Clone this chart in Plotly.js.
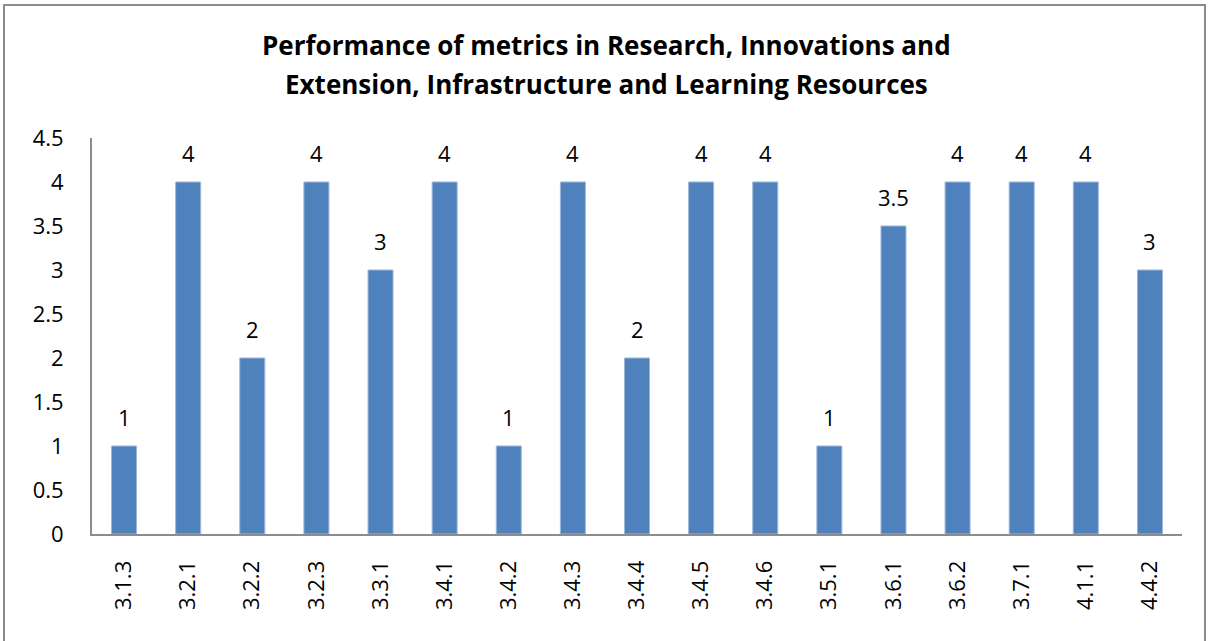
<!DOCTYPE html>
<html>
<head>
<meta charset="utf-8">
<script src="https://cdn.plot.ly/plotly-3.0.1.min.js"></script>
<style>
html,body{margin:0;padding:0;background:#fff;}
#frame{position:absolute;left:3px;top:4px;width:1203px;height:650px;border:2px solid #8c8c8c;box-sizing:border-box;}
#chart{position:absolute;left:0;top:0;width:1210px;height:641px;}
</style>
</head>
<body>
<div id="chart"></div>
<div id="frame"></div>
<script>
const categories = ["3.1.3","3.2.1","3.2.2","3.2.3","3.3.1","3.4.1","3.4.2","3.4.3","3.4.4","3.4.5","3.4.6","3.5.1","3.6.1","3.6.2","3.7.1","4.1.1","4.4.2"];
const values = [1,4,2,4,3,4,1,4,2,4,4,1,3.5,4,4,4,3];
const yTicks = [0,0.5,1,1.5,2,2.5,3,3.5,4,4.5];
const titleLines = ["Performance of metrics in Research, Innovations and", "Extension, Infrastructure and Learning Resources"];

const FONT = "'Open Sans', Lato, sans-serif";
const FS = 22;

const trace = {
  type: "bar",
  x: categories,
  y: values,
  marker: {color: "#4F81BD", line: {color: "#9DB7D9", width: 1}},
  hoverinfo: "x+y"
};

const annotations = categories.map((c, i) => ({
  x: c, y: values[i], xref: "x", yref: "y",
  text: String(values[i]), showarrow: false,
  yanchor: "bottom", yshift: 12,
  font: {family: FONT, size: FS, color: "#000"}
}));

const plotL = 92, plotW = 1210 - 92 - 28, plotT = 138, plotH = 641 - 138 - 107;
const titleCentersPx = [45, 84];
titleLines.forEach((t, i) => {
  annotations.push({
    text: "<b>" + t + "</b>", showarrow: false,
    xref: "paper", yref: "paper",
    x: (606 - plotL) / plotW, xanchor: "center",
    y: 1 + (plotT - titleCentersPx[i]) / plotH, yanchor: "middle",
    font: {family: FONT, size: 26, color: "#000"}
  });
});

const layout = {
  width: 1210, height: 641,
  margin: {l: plotL, r: 28, t: plotT, b: 107},
  paper_bgcolor: "#fff", plot_bgcolor: "#fff",
  showlegend: false,
  bargap: 0.61,
  xaxis: {
    type: "category",
    tickangle: -90,
    ticks: "", ticklabelstandoff: 16,
    showline: true, linecolor: "#8c8c8c", linewidth: 2,
    showgrid: false, zeroline: false,
    tickfont: {family: FONT, size: FS, color: "#000"},
    fixedrange: true
  },
  yaxis: {
    range: [0, 4.5],
    tickvals: yTicks,
    ticktext: yTicks.map(String),
    ticks: "", ticklabelstandoff: 22,
    showline: true, linecolor: "#8c8c8c", linewidth: 2,
    showgrid: false, zeroline: false,
    tickfont: {family: FONT, size: FS, color: "#000"},
    fixedrange: true
  },
  annotations: annotations
};

Plotly.newPlot("chart", [trace], layout, {displayModeBar: false, staticPlot: true});
</script>
</body>
</html>
